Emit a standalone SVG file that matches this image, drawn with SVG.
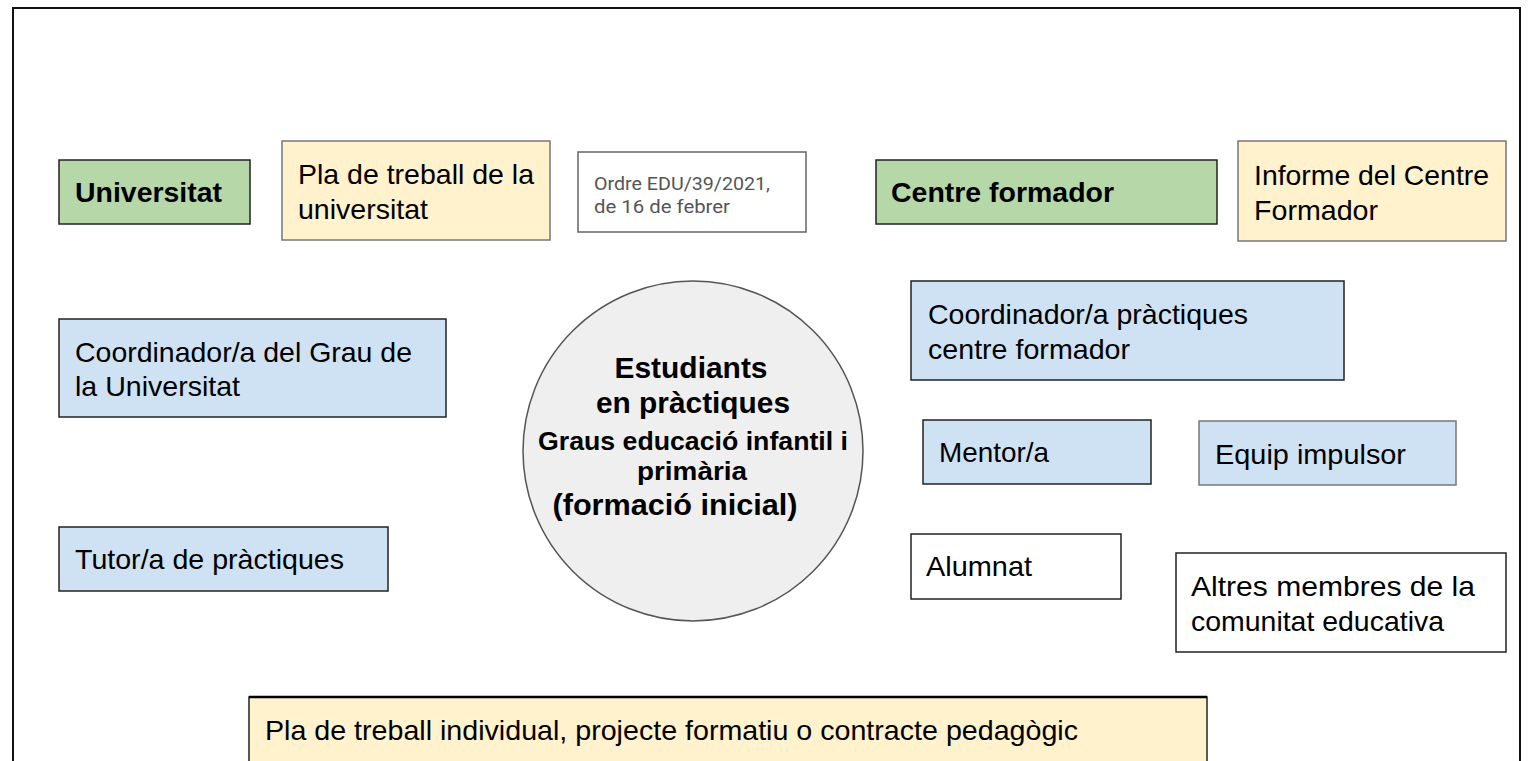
<svg xmlns="http://www.w3.org/2000/svg" width="1534" height="761" viewBox="0 0 1534 761">
<style>
text{font-family:"Liberation Sans",Arial,sans-serif;fill:#000}
.t{font-size:28.5px}
.b{font-size:28px;font-weight:bold}
.o{font-size:17.5px;fill:#555;font-family:Roboto,"Liberation Sans",sans-serif}
.green{fill:#b6d7a8;stroke:#222;stroke-width:1.5}
.yel{fill:#fff2cc;stroke:#777;stroke-width:1.5}
.blue{fill:#cfe2f3;stroke:#222;stroke-width:1.5}
.blue2{fill:#cfe2f3;stroke:#777;stroke-width:1.5}
.wht{fill:#fff;stroke:#222;stroke-width:1.5}
.wht2{fill:#fff;stroke:#666;stroke-width:1.5}
.c{text-anchor:middle;font-weight:bold}
</style>
<rect x="0" y="0" width="1534" height="761" fill="#fff"/>
<rect x="13" y="8" width="1507" height="800" fill="none" stroke="#111" stroke-width="2"/>
<g id="universitat"><rect class="green" x="59" y="160" width="191" height="64"/><text class="b" x="75" y="202" textLength="147" lengthAdjust="spacingAndGlyphs">Universitat</text></g>
<g id="pla-universitat"><rect class="yel" x="282" y="141" width="268" height="99"/><text class="t" x="298" y="184" textLength="236" lengthAdjust="spacingAndGlyphs">Pla de treball de la</text><text class="t" x="298" y="219" textLength="130" lengthAdjust="spacingAndGlyphs">universitat</text></g>
<g id="ordre"><rect class="wht2" x="578" y="152" width="228" height="80"/><text class="o" x="594" y="190" textLength="176" lengthAdjust="spacingAndGlyphs">Ordre EDU/39/2021,</text><text class="o" x="594" y="213" textLength="136" lengthAdjust="spacingAndGlyphs">de 16 de febrer</text></g>
<g id="centre-formador"><rect class="green" x="876" y="160" width="341" height="64"/><text class="b" x="891" y="202" textLength="223" lengthAdjust="spacingAndGlyphs">Centre formador</text></g>
<g id="informe"><rect class="yel" x="1238" y="141" width="268" height="100"/><text class="t" x="1254" y="185" textLength="235" lengthAdjust="spacingAndGlyphs">Informe del Centre</text><text class="t" x="1254" y="220" textLength="124" lengthAdjust="spacingAndGlyphs">Formador</text></g>
<g id="coord-grau"><rect class="blue" x="59" y="319" width="387" height="98"/><text class="t" x="75" y="362" textLength="337" lengthAdjust="spacingAndGlyphs">Coordinador/a del Grau de</text><text class="t" x="75" y="396" textLength="165" lengthAdjust="spacingAndGlyphs">la Universitat</text></g>
<g id="coord-practiques"><rect class="blue" x="911" y="281" width="433" height="99"/><text class="t" x="928" y="324" textLength="320" lengthAdjust="spacingAndGlyphs">Coordinador/a pràctiques</text><text class="t" x="928" y="359" textLength="202" lengthAdjust="spacingAndGlyphs">centre formador</text></g>
<g id="estudiants"><circle cx="693" cy="451" r="170" fill="#efefef" stroke="#555" stroke-width="1.5"/>
<text class="c" x="691" y="378" style="font-size:29.5px" textLength="153" lengthAdjust="spacingAndGlyphs">Estudiants</text>
<text class="c" x="693" y="413" style="font-size:29.5px" textLength="194" lengthAdjust="spacingAndGlyphs">en pràctiques</text>
<text class="c" x="693" y="450" style="font-size:26.5px" textLength="310" lengthAdjust="spacingAndGlyphs">Graus educació infantil i</text>
<text class="c" x="692" y="480" style="font-size:26.5px" textLength="110" lengthAdjust="spacingAndGlyphs">primària</text>
<text class="c" x="675" y="515" style="font-size:29.5px" textLength="245" lengthAdjust="spacingAndGlyphs">(formació  inicial)</text></g>
<g id="mentor"><rect class="blue" x="923" y="420" width="228" height="64"/><text class="t" x="939" y="462" textLength="110" lengthAdjust="spacingAndGlyphs">Mentor/a</text></g>
<g id="equip"><rect class="blue2" x="1199" y="421" width="257" height="64"/><text class="t" x="1215" y="464" textLength="191" lengthAdjust="spacingAndGlyphs">Equip impulsor</text></g>
<g id="tutor"><rect class="blue" x="59" y="527" width="329" height="64"/><text class="t" x="75" y="569" textLength="269" lengthAdjust="spacingAndGlyphs">Tutor/a de pràctiques</text></g>
<g id="alumnat"><rect class="wht" x="911" y="534" width="210" height="65"/><text class="t" x="926" y="576" textLength="106" lengthAdjust="spacingAndGlyphs">Alumnat</text></g>
<g id="altres"><rect class="wht" x="1176" y="553" width="330" height="99"/><text class="t" x="1191" y="596" textLength="284" lengthAdjust="spacingAndGlyphs">Altres membres de la</text><text class="t" x="1191" y="631" textLength="253" lengthAdjust="spacingAndGlyphs">comunitat educativa</text></g>
<g id="pla-individual"><rect x="249" y="697" width="958" height="80" fill="#fff2cc" stroke="#222" stroke-width="1.5"/><line x1="249" y1="697" x2="1207" y2="697" stroke="#000" stroke-width="2.5"/><text class="t" x="265" y="740" textLength="813" lengthAdjust="spacingAndGlyphs">Pla de treball individual, projecte formatiu o contracte pedagògic</text></g>
<g id="connectors"></g>
</svg>
